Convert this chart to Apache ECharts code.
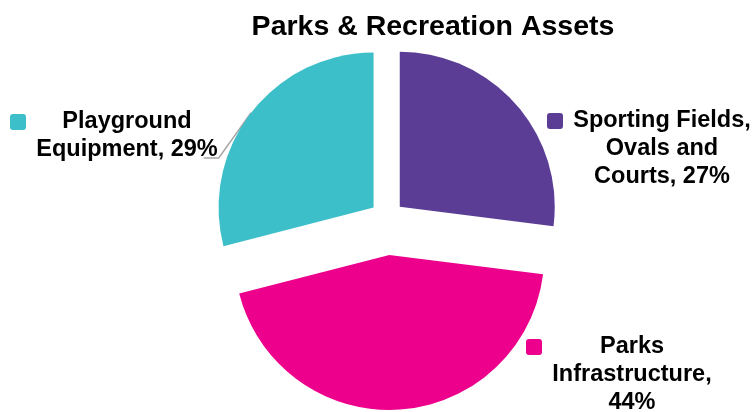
<!DOCTYPE html>
<html>
<head>
<meta charset="utf-8">
<script src="https://cdn.jsdelivr.net/npm/echarts@6/dist/echarts.min.js"></script>
<style>
  html, body { margin: 0; padding: 0; background: #ffffff; }
  #chart { width: 755px; height: 412px; }
</style>
</head>
<body>
<div id="chart"></div>
<script>
// ---- data ----
const titleText = 'Parks & Recreation Assets';
const categories = ['Sporting Fields, Ovals and Courts', 'Parks Infrastructure', 'Playground Equipment'];
const shares = [27, 44, 29];

// ---- styling / layout ----
const colors = ['#5B3D96', '#EC008C', '#3DBFC9'];
const explode = [17, 37, 17];          // how far each slice is pulled out
const wrapWidths = [188, 168, 194];    // max text width before a label wraps
const labelBoxes = [{ x: 547, y: 107 }, { x: 526, y: 333 }, { x: 10, y: 108 }];
const showLeader = [false, false, true];
const PIE_CENTER = [387, 218];
const PIE_RADIUS = 155;
const FONT = '"Liberation Sans", Arial, Helvetica, sans-serif';
const LABEL_SIZE = 23.5, LINE_H = 28, KEY = 16, GAP = 10;
const TITLE_SIZE = 28.5, TITLE_CX = 433, TITLE_TOP = 13;

const ctx = document.createElement('canvas').getContext('2d');
function textWidth(s, size) {
  ctx.font = 'bold ' + size + 'px ' + FONT;
  return ctx.measureText(s).width;
}
function wrap(text, maxW) {
  const words = text.split(' ');
  const lines = [];
  let cur = '';
  for (const w of words) {
    const t = cur ? cur + ' ' + w : w;
    if (cur && textWidth(t, LABEL_SIZE) > maxW) { lines.push(cur); cur = w; }
    else cur = t;
  }
  lines.push(cur);
  return lines;
}

const labelLines = categories.map((c, i) => wrap(c + ', ' + shares[i] + '%', wrapWidths[i]));
const blockWidths = labelLines.map(ls => Math.ceil(Math.max(...ls.map(l => textWidth(l, LABEL_SIZE)))));

const rich = {
  g: { width: GAP, lineHeight: LINE_H },
  s: { width: KEY + GAP, lineHeight: LINE_H }
};
categories.forEach((c, i) => {
  rich['k' + i] = { width: KEY, height: KEY, borderRadius: 3, backgroundColor: colors[i] };
  rich['t' + i] = {
    width: blockWidths[i], align: 'center', fontSize: LABEL_SIZE, fontWeight: 'bold',
    fontFamily: FONT, lineHeight: LINE_H, color: '#000000'
  };
});

function labelText(i) {
  return labelLines[i].map((line, n) =>
    (n === 0 ? '{k' + i + '|}{g|}' : '{s|}') + '{t' + i + '|' + line + '}'
  ).join('\n');
}

const total = shares.reduce((a, b) => a + b, 0);
let cum = 0;
const series = shares.map((v, i) => {
  const mid = 2 * Math.PI * (cum + v / 2) / total;
  cum += v;
  const center = [
    PIE_CENTER[0] + explode[i] * Math.sin(mid),
    PIE_CENTER[1] - explode[i] * Math.cos(mid)
  ];
  return {
    type: 'pie',
    radius: PIE_RADIUS,
    center: center,
    startAngle: 90,
    clockwise: true,
    avoidLabelOverlap: false,
    silent: true,
    animation: false,
    emphasis: { disabled: true },
    data: shares.map((val, j) => ({
      name: categories[j],
      value: val,
      itemStyle: { color: colors[j], opacity: j === i ? 1 : 0 },
      label: { show: j === i },
      labelLine: { show: j === i && showLeader[i] }
    })),
    label: {
      formatter: () => labelText(i),
      rich: rich,
      lineHeight: LINE_H
    },
    labelLine: { lineStyle: { color: '#A6A6A6', width: 1.5 } },
    labelLayout: (p) => {
      if (p.dataIndex !== i) return {};
      const box = labelBoxes[i];
      const out = { x: box.x, y: box.y, align: 'left', verticalAlign: 'top' };
      if (showLeader[i]) {
        const start = (p.labelLinePoints && p.labelLinePoints[0]) ||
          [center[0] + PIE_RADIUS * Math.sin(mid), center[1] - PIE_RADIUS * Math.cos(mid)];
        const lines = labelLines[i];
        const lastW = textWidth(lines[lines.length - 1], LABEL_SIZE);
        const elbowX = box.x + KEY + GAP + (blockWidths[i] + lastW) / 2 + 1;
        const baseY = box.y + LINE_H * (lines.length - 1) + LINE_H / 2 + 8;
        out.labelLinePoints = [start, [elbowX, baseY], [elbowX - 15, baseY]];
      }
      return out;
    }
  };
});

const chart = echarts.init(document.getElementById('chart'));
chart.setOption({
  backgroundColor: '#ffffff',
  animation: false,
  title: {
    text: titleText,
    left: TITLE_CX - textWidth(titleText, TITLE_SIZE) / 2,
    top: TITLE_TOP,
    padding: 0,
    textStyle: { fontSize: TITLE_SIZE, fontWeight: 'bold', fontFamily: FONT, color: '#000000' }
  },
  series: series
});
</script>
</body>
</html>
